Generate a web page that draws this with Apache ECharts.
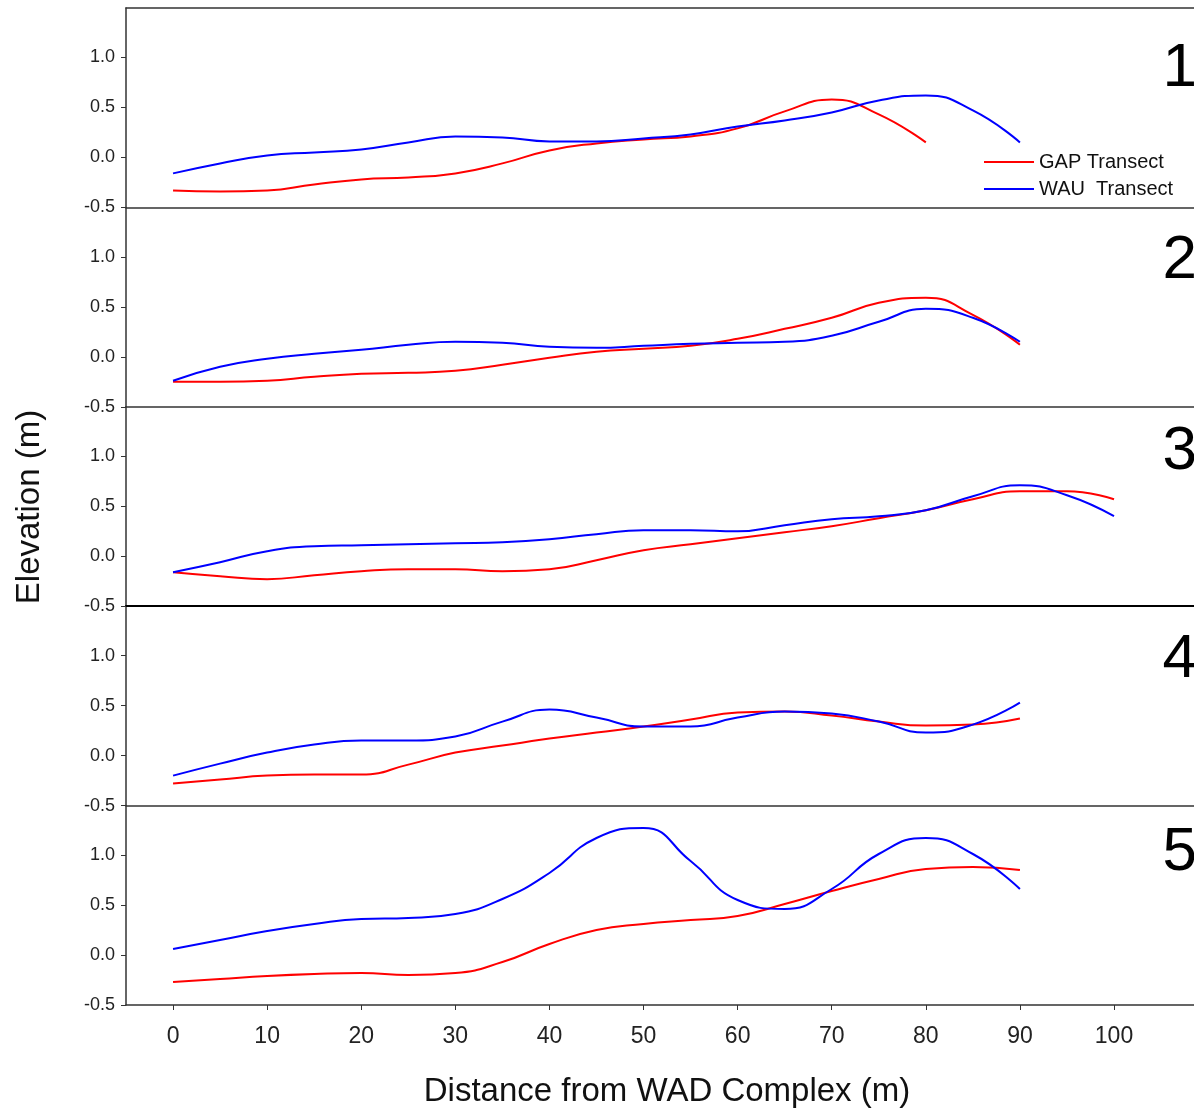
<!DOCTYPE html>
<html>
<head>
<meta charset="utf-8">
<script src="https://cdn.jsdelivr.net/npm/echarts@6/dist/echarts.min.js"></script>
<style>
html,body{margin:0;padding:0;background:#fff;}
#chart{width:1194px;height:1112px;}
</style>
</head>
<body>
<div id="chart"></div>
<script>
// ---- data (elevation in m, read at every 5 m of distance) ----
const dist80  = [0,5,10,15,20,25,30,35,40,45,50,55,60,65,70,75,80];
const dist90  = [0,5,10,15,20,25,30,35,40,45,50,55,60,65,70,75,80,85,90];
const dist100 = [0,5,10,15,20,25,30,35,40,45,50,55,60,65,70,75,80,85,90,95,100];

const gap1 = [-0.33,-0.34,-0.33,-0.27,-0.22,-0.20,-0.16,-0.06,0.07,0.14,0.18,0.21,0.29,0.46,0.58,0.43,0.15];
const wau1 = [-0.16,-0.06,0.02,0.05,0.08,0.15,0.21,0.20,0.16,0.16,0.19,0.23,0.31,0.37,0.45,0.57,0.62,0.47,0.15];

const gap2 = [-0.25,-0.25,-0.24,-0.20,-0.17,-0.16,-0.14,-0.08,-0.01,0.05,0.08,0.11,0.18,0.28,0.39,0.54,0.59,0.42,0.12];
const wau2 = [-0.24,-0.10,-0.02,0.03,0.07,0.12,0.15,0.14,0.10,0.09,0.11,0.13,0.14,0.15,0.21,0.35,0.48,0.39,0.15];

const gap3 = [-0.16,-0.20,-0.23,-0.19,-0.15,-0.13,-0.13,-0.15,-0.13,-0.04,0.06,0.12,0.18,0.24,0.30,0.38,0.46,0.57,0.65,0.65,0.57];
const wau3 = [-0.16,-0.06,0.05,0.10,0.11,0.12,0.13,0.14,0.17,0.22,0.26,0.26,0.25,0.31,0.37,0.40,0.46,0.60,0.71,0.61,0.40];

const gap4 = [-0.28,-0.24,-0.20,-0.19,-0.19,-0.09,0.03,0.10,0.17,0.23,0.29,0.36,0.43,0.44,0.40,0.34,0.30,0.31,0.37];
const wau4 = [-0.20,-0.08,0.03,0.11,0.15,0.15,0.19,0.34,0.46,0.38,0.29,0.29,0.38,0.44,0.42,0.34,0.23,0.31,0.53];

const gap5 = [-0.27,-0.24,-0.21,-0.19,-0.18,-0.20,-0.18,-0.07,0.11,0.25,0.31,0.35,0.39,0.51,0.64,0.76,0.86,0.88,0.85];
const wau5 = [0.06,0.15,0.24,0.31,0.36,0.37,0.41,0.56,0.82,1.17,1.27,0.94,0.55,0.46,0.66,1.01,1.17,1.01,0.66];

const panelLabels = ['1','2','3','4','5'];
const xTicks = [0,10,20,30,40,50,60,70,80,90,100];
const yTicks = [-0.5,0,0.5,1.0];
const seriesNames = ['GAP Transect','WAU  Transect'];

const panels = [
  {gapX: dist80,  gap: gap1, wauX: dist90,  wau: wau1},
  {gapX: dist90,  gap: gap2, wauX: dist90,  wau: wau2},
  {gapX: dist100, gap: gap3, wauX: dist100, wau: wau3},
  {gapX: dist90,  gap: gap4, wauX: dist90,  wau: wau4},
  {gapX: dist90,  gap: gap5, wauX: dist90,  wau: wau5}
];

// ---- layout / style ----
const FONT = '"Liberation Sans", Arial, sans-serif';
const TOP = 8, PH = 199.4;
const YMIN = -0.5, YMAX = 1.494;
const XMIN = -5, XMAX = 108.5;
const numberY = [69, 261, 452, 660, 853];

const zip = (xs, ys) => xs.map((x, k) => [x, ys[k]]);

const grids = panels.map((p, i) => ({left: 126, right: 0, top: TOP + i * PH, height: PH}));

const xAxes = panels.map((p, i) => ({
  type: 'value', gridIndex: i, min: XMIN, max: XMAX, position: 'bottom',
  axisLine: {show: true, onZero: false, lineStyle: {color: i === 2 ? '#000' : '#333', width: i === 2 ? 2 : 1.5}},
  splitLine: {show: false},
  axisTick: {show: i === 4, customValues: xTicks, length: 5, lineStyle: {color: '#333'}},
  axisLabel: {show: i === 4, customValues: xTicks, fontSize: 23, fontFamily: FONT, color: '#222', margin: 20},
  name: i === 4 ? 'Distance from WAD Complex (m)' : '',
  nameLocation: 'middle', nameGap: 70,
  nameTextStyle: {fontSize: 33, fontFamily: FONT, color: '#111', padding: [0, 0, 0, 14]}
}));
// top frame line of the first panel
xAxes.push({
  type: 'value', gridIndex: 0, min: XMIN, max: XMAX, position: 'top',
  axisLine: {show: true, onZero: false, lineStyle: {color: '#333', width: 1.5}},
  axisTick: {show: false}, axisLabel: {show: false}, splitLine: {show: false}
});

const yAxes = panels.map((p, i) => ({
  type: 'value', gridIndex: i, min: YMIN, max: YMAX,
  axisLine: {show: true, onZero: false, lineStyle: {color: '#333', width: 1.5}},
  splitLine: {show: false},
  axisTick: {show: true, customValues: yTicks, length: 5, lineStyle: {color: '#333'}},
  axisLabel: {customValues: yTicks, formatter: v => v.toFixed(1), fontSize: 18, fontFamily: FONT, color: '#222', margin: 11}
}));

const series = [];
panels.forEach((p, i) => {
  series.push({
    name: seriesNames[0], type: 'line', xAxisIndex: i, yAxisIndex: i,
    data: zip(p.gapX, p.gap), smooth: 0.5, symbol: 'none',
    lineStyle: {color: '#ff0000', width: 2}, itemStyle: {color: '#ff0000'}, silent: true
  });
  series.push({
    name: seriesNames[1], type: 'line', xAxisIndex: i, yAxisIndex: i,
    data: zip(p.wauX, p.wau), smooth: 0.5, symbol: 'none',
    lineStyle: {color: '#0000ff', width: 2}, itemStyle: {color: '#0000ff'}, silent: true
  });
});

const graphics = panelLabels.map((t, i) => ({
  type: 'text', x: 1197, y: numberY[i],
  style: {text: t, font: '62px ' + FONT, fill: '#000', align: 'right', verticalAlign: 'middle'}
}));
graphics.push({
  type: 'text', x: 30, y: 507, rotation: Math.PI / 2,
  style: {text: 'Elevation (m)', font: '33px ' + FONT, fill: '#111', align: 'center', verticalAlign: 'middle'}
});

const chart = echarts.init(document.getElementById('chart'), null, {renderer: 'canvas'});
chart.setOption({
  backgroundColor: '#fff',
  animation: false,
  grid: grids,
  xAxis: xAxes,
  yAxis: yAxes,
  legend: {
    data: seriesNames, orient: 'vertical', left: 979, top: 147,
    icon: 'rect', itemWidth: 50, itemHeight: 2, itemGap: 7, selectedMode: false,
    textStyle: {fontSize: 20, fontFamily: FONT, color: '#111'}
  },
  series: series,
  graphic: graphics
});
</script>
</body>
</html>
